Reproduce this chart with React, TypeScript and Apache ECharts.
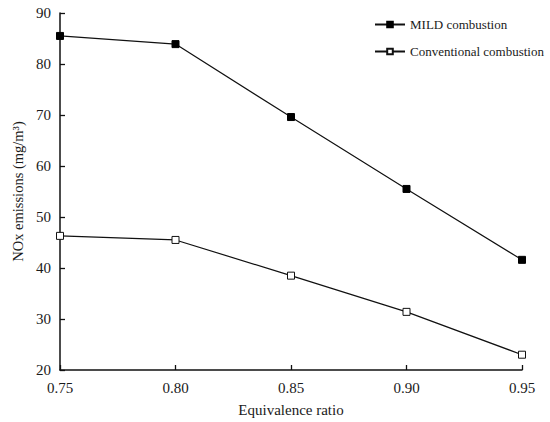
import React, { useEffect, useRef } from "react";
import * as echarts from "echarts";

const ratios = [0.75, 0.8, 0.85, 0.9, 0.95];
const mildValues = [85.5, 83.9, 69.6, 55.5, 41.6];
const conventionalValues = [46.3, 45.5, 38.5, 31.4, 23.0];
const seriesNames = ["MILD combustion", "Conventional combustion"];

const FONT = "'Liberation Serif', 'Times New Roman', serif";
const INK = "#1a1a1a";

export default function App() {
  const ref = useRef<HTMLDivElement>(null);
  useEffect(() => {
    if (!ref.current) return;
    const chart = echarts.init(ref.current, undefined, { renderer: "svg" });
    const pair = (vals: number[]) => ratios.map((r, i) => [r, vals[i]]);
    chart.setOption({
      animation: false,
      backgroundColor: "#ffffff",
      textStyle: { fontFamily: FONT, color: INK },
      grid: { left: 60, right: 28, top: 13, bottom: 48 },
      legend: {
        orient: "vertical",
        left: 369,
        top: 13,
        itemWidth: 30,
        itemHeight: 7,
        itemGap: 14,
        textStyle: { fontFamily: FONT, fontSize: 13, color: INK },
        data: seriesNames,
      },
      xAxis: {
        type: "value",
        min: 0.75,
        max: 0.95,
        interval: 0.05,
        name: "Equivalence ratio",
        nameLocation: "middle",
        nameGap: 32,
        nameTextStyle: { fontFamily: FONT, fontSize: 15, color: INK },
        axisLine: { lineStyle: { color: "#111", width: 1.5 } },
        axisTick: { inside: true, length: 5, lineStyle: { color: "#111", width: 1.3 } },
        axisLabel: {
          fontFamily: FONT,
          fontSize: 15,
          color: INK,
          margin: 10,
          formatter: (v: number) => v.toFixed(2),
        },
        splitLine: { show: false },
      },
      yAxis: {
        type: "value",
        min: 20,
        max: 90,
        interval: 10,
        name: "NOx emissions (mg/m³)",
        nameLocation: "middle",
        nameGap: 34,
        nameTextStyle: { fontFamily: FONT, fontSize: 14.5, color: INK },
        axisLine: { show: true, lineStyle: { color: "#111", width: 1.5 } },
        axisTick: { show: true, inside: true, length: 5, lineStyle: { color: "#111", width: 1.3 } },
        axisLabel: { fontFamily: FONT, fontSize: 15, color: INK, margin: 9 },
        splitLine: { show: false },
      },
      series: [
        {
          name: seriesNames[0],
          type: "line",
          data: pair(mildValues),
          symbol: "rect",
          symbolSize: 7,
          lineStyle: { color: "#111", width: 1.2 },
          itemStyle: { color: "#000", borderColor: "#000", borderWidth: 1 },
        },
        {
          name: seriesNames[1],
          type: "line",
          data: pair(conventionalValues),
          symbol: "rect",
          symbolSize: 7,
          lineStyle: { color: "#111", width: 1.2 },
          itemStyle: { color: "#ffffff", borderColor: "#111", borderWidth: 1 },
        },
      ],
    });
    return () => chart.dispose();
  }, []);
  return (
    <div
      ref={ref}
      style={{ position: "fixed", left: 0, top: 0, width: 550, height: 422 }}
    />
  );
}
